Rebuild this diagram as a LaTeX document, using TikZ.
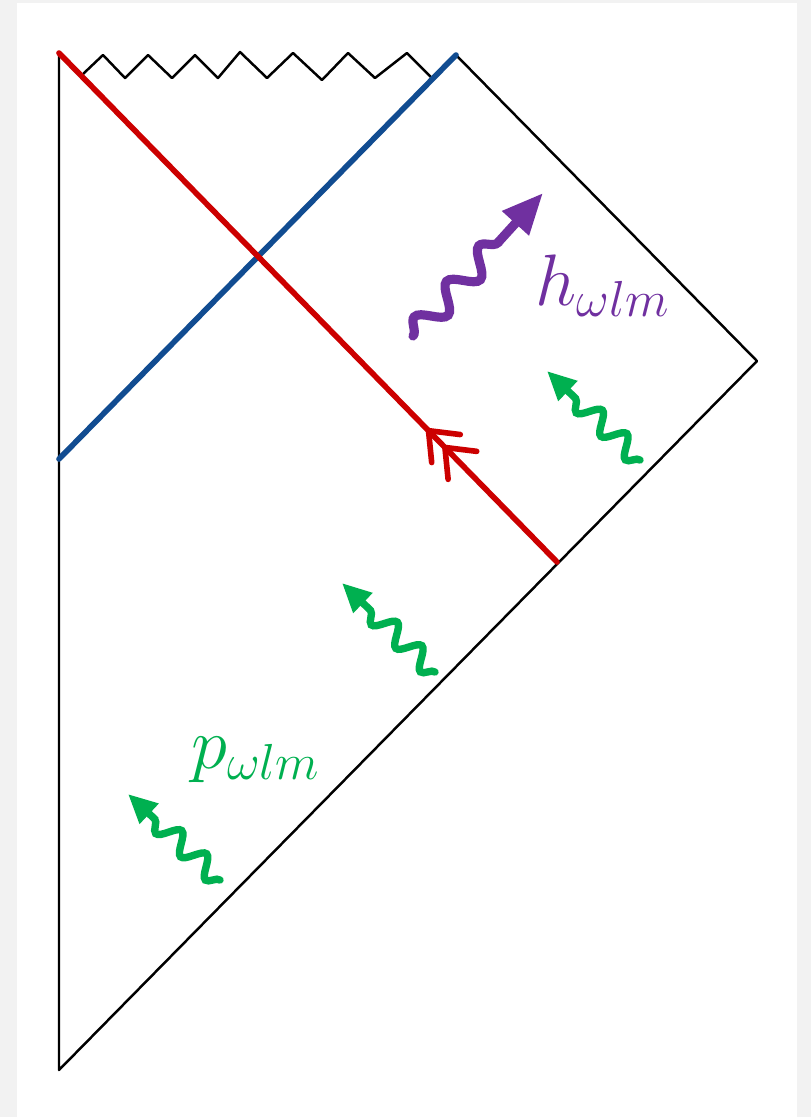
\documentclass[tikz,border=0pt]{standalone}
\usepackage{amsmath}
\usetikzlibrary{arrows.meta, decorations.pathmorphing, decorations.markings}

\definecolor{pagegray}{RGB}{242,242,242}
\definecolor{shellred}{RGB}{204,0,0}
\definecolor{horblue}{RGB}{17,76,145}
\definecolor{hawkpurple}{RGB}{112,48,160}
\definecolor{modegreen}{RGB}{0,176,80}

\begin{document}
\begin{tikzpicture}[
    x = 0.01cm, y = -0.01cm,
    boundary/.style = {draw=black, line width=0.7pt,
                       line join=round},
    shell/.style    = {draw=shellred, line width=1.6pt,
                       line cap=round},
    horizon/.style  = {draw=horblue, line width=1.6pt,
                       line cap=round},
    greenwave/.style = {draw=modegreen, line width=2.1pt,
                        -{Triangle[length=2.9mm, width=2.6mm]},
                        decorate, line cap=round,
                        decoration={snake, amplitude=0.1cm,
                                    segment length=0.34cm,
                                    post length=3.3mm}},
    purplewave/.style = {draw=hawkpurple, line width=2.6pt,
                         -{Triangle[length=4.1mm, width=3.4mm]},
                         decorate, line cap=round,
                         decoration={snake, amplitude=0.12cm,
                                     segment length=0.48cm,
                                     post length=5mm}},
    lbl/.style      = {inner sep=0pt, font=\fontsize{20}{24}\selectfont}
]
%% Page
\fill[pagegray] (0,0) rectangle (811,1117);
\fill[white] (17,3) rectangle (797,1117);
\useasboundingbox (0,0) rectangle (811,1117);

%% Corners of the diagram
\coordinate (origin) at (59,53);
\coordinate (past)   at (59,1070);
\coordinate (scri)   at (757,361);
\coordinate (apex)   at (456,55);
\coordinate (hstart) at (59,459);
\coordinate (sin)    at (557,562);

%% Boundary
\draw[boundary] (origin) -- (past) -- (scri) -- (apex);

%% Singularity
\draw[boundary] (83,74) -- (103,55) -- (125,78) -- (148,55)
    -- (172,78) -- (195,55) -- (218,78) -- (240,52) -- (267,78)
    -- (293,53) -- (322,80) -- (348,53) -- (375,78) -- (407,53)
    -- (432,78);

%% Horizon
\draw[horizon] (hstart) -- (apex);

%% Collapsing shell
\draw[shell, postaction={decorate, decoration={markings,
        mark=at position 0.229 with {\arrow[line width=1.6pt]{Straight Barb[length=2.5mm, width=4mm, round]}},
        mark=at position 0.262 with {\arrow[line width=1.6pt]{Straight Barb[length=2.5mm, width=4mm, round]}}}}]
    (sin) -- (origin);

%% Hawking mode
\coordinate (h0) at (413,336);
\coordinate (h1) at (543,193);
\draw[purplewave] (h0) -- (h1);
\node[lbl, text=hawkpurple] (hlabel) at (603,286) {$h_{\omega lm}$};

%% Incoming modes
\coordinate (g1a) at (640,460);
\coordinate (g1b) at (547,371);
\coordinate (g2a) at (435,672);
\coordinate (g2b) at (342,583);
\coordinate (g3a) at (220,880);
\coordinate (g3b) at (128,794);
\draw[greenwave] (g1a) -- (g1b);
\draw[greenwave] (g2a) -- (g2b);
\draw[greenwave] (g3a) -- (g3b);
\node[lbl, text=modegreen, font=\fontsize{21}{25}\selectfont] (plabel) at (256,760) {$p_{\omega lm}$};
\end{tikzpicture}
\end{document}
